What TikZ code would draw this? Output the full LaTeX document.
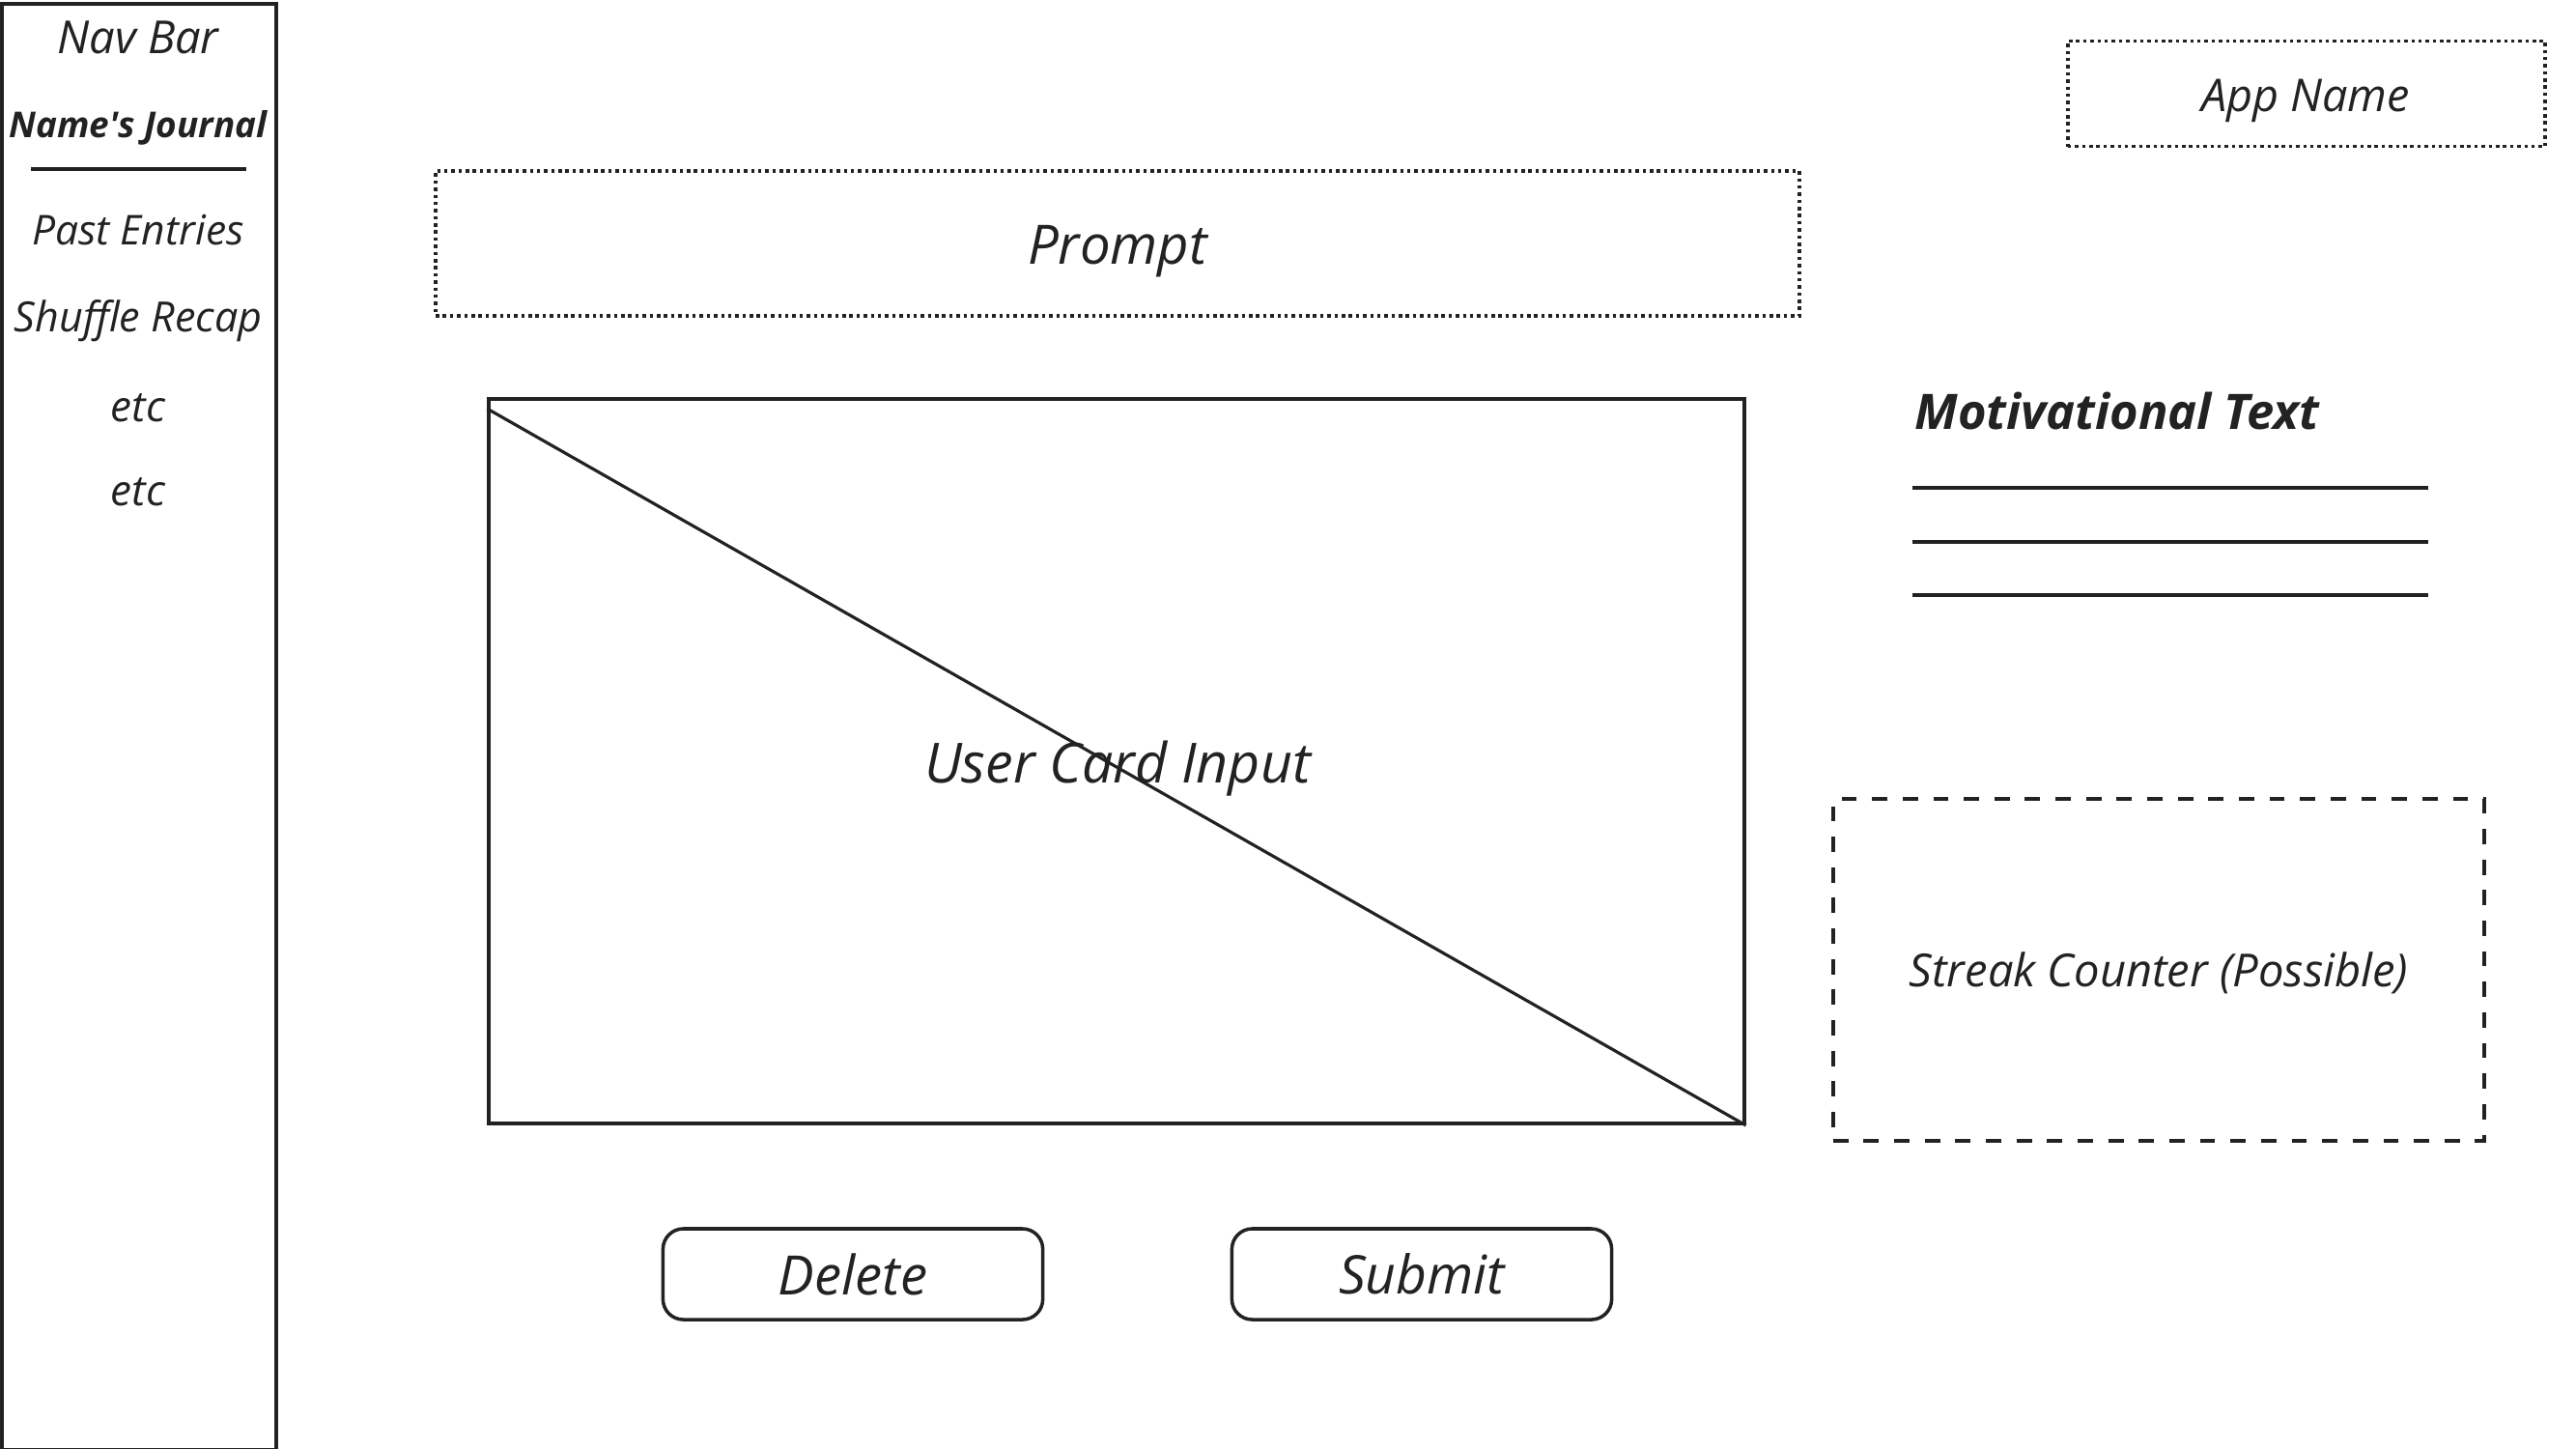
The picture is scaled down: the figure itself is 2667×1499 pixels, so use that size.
\documentclass[tikz,border=0pt]{standalone}
\usepackage{fontspec}
\setmainfont{Open Sans}
\usetikzlibrary{positioning}
\definecolor{ink}{HTML}{222222}
\tikzset{
  plain/.style={draw=ink, line width=1pt},
  dotbox/.style={draw=ink, line width=1.1pt, dash pattern=on 1pt off 1.1pt},
  dashbox/.style={draw=ink, line width=1.1pt, dash pattern=on 4.5pt off 4.5pt},
  button/.style={draw=ink, line width=1pt, rounded corners=6pt, minimum width=3.93cm, minimum height=0.94cm},
  label/.style={text=ink, font=\itshape, inner sep=0pt}
}

\begin{document}
\begin{tikzpicture}[x=0.01cm, y=-0.01cm]
	\useasboundingbox[fill=white] (0, 0) rectangle (2667, 1499);
	% navigation column
	\node[plain, line width=1.1pt, minimum width=2.83cm, minimum height=14.96cm] (navbar) at (144, 752) {};
	\node[label, font=\itshape\fontsize{13.4}{15}\selectfont] (navtitle) at (143, 39) {Nav Bar};
	\node[label, font=\bfseries\itshape\fontsize{10.5}{12}\selectfont] (journal) at (143, 132) {Name\textquotesingle s Journal};
	\coordinate (sepl) at (32, 175);
	\coordinate (sepr) at (255, 175);
	\draw[plain] (sepl) -- (sepr);
	\node[label, font=\itshape\fontsize{12.1}{15}\selectfont] (past) at (143, 238) {Past Entries};
	\node[label, font=\itshape\fontsize{12.25}{15}\selectfont] (shuffle) at (143, 332) {Shuffle Recap};
	\node[label, font=\itshape\fontsize{12.5}{15}\selectfont] (etca) at (143, 422) {etc};
	\node[label, font=\itshape\fontsize{12.5}{15}\selectfont] (etcb) at (143, 509) {etc};

	% main area
	\node[dotbox, minimum width=14.11cm, minimum height=1.50cm] (prompt) at (1157, 252) {};
	\node[label, font=\itshape\fontsize{16}{19}\selectfont] (prompttext) at (1157, 260) {Prompt};
	\node[plain, minimum width=12.99cm, minimum height=7.50cm] (card) at (1156, 788) {};
	\draw[plain, line width=0.9pt] ([yshift=-0.12cm]card.north west) -- (card.south east);
	\node[label, font=\itshape\fontsize{16.3}{20}\selectfont] (cardtext) at (1157, 796) {User Card Input};
	\node[button] (delete) at (883, 1319) {};
	\node[label, font=\itshape\fontsize{16}{20}\selectfont] (deletetext) at (delete) {Delete};
	\node[button] (submit) at (1472, 1319) {};
	\node[label, font=\itshape\fontsize{15.7}{20}\selectfont] (submittext) at (submit) {Submit};

	% right column
	\node[dotbox, minimum width=4.94cm, minimum height=1.09cm] (appname) at (2388, 97) {};
	\node[label, font=\itshape\fontsize{13.3}{16}\selectfont] (apptext) at (2387, 104) {App Name};
	\node[label, anchor=west, font=\bfseries\itshape\fontsize{14.4}{17}\selectfont] (motiv) at (1982, 425) {Motivational Text};
	\foreach \y in {505, 561, 616}
		\draw[plain, line width=0.9pt] (1980, \y) -- (2514, \y);
	\node[dashbox, minimum width=6.74cm, minimum height=3.53cm] (streak) at (2235, 1004) {};
	\node[label, font=\itshape\fontsize{13.4}{16}\selectfont] (streaktext) at (2235, 1007) {Streak Counter (Possible)};
\end{tikzpicture}
\end{document}
